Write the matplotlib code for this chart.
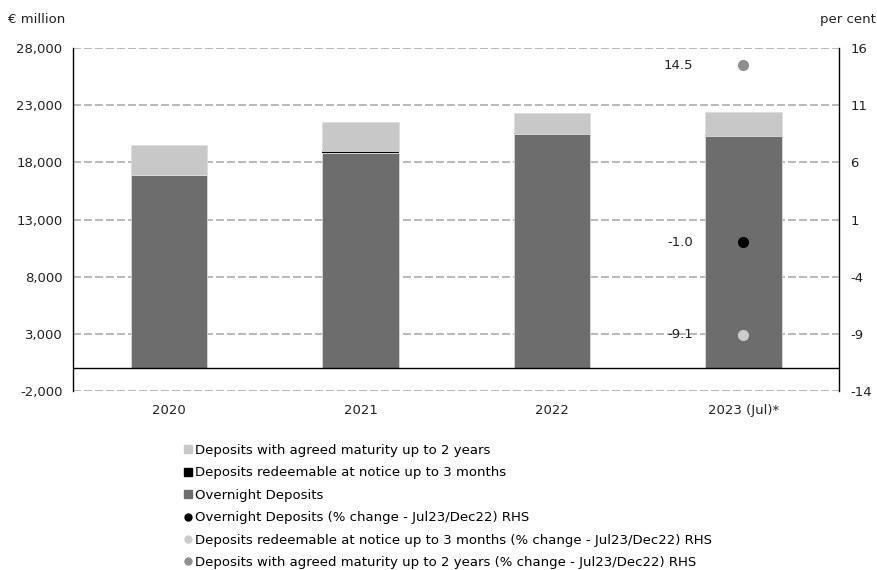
import matplotlib.pyplot as plt
from matplotlib.lines import Line2D

plt.rcParams['font.family'] = ['DejaVu Sans']
plt.rcParams['axes.unicode_minus'] = False

years = ['2020', '2021', '2022', '2023 (Jul)*']
overnight = [16850, 18860, 20450, 20260]
notice = [80, 150, 80, 100]
agreed = [2570, 2480, 1800, 2030]

# % change Jul23/Dec22 (RHS), only for the last category
pct_labels = ['Overnight Deposits (% change - Jul23/Dec22) RHS',
              'Deposits redeemable at notice up to 3 months (% change - Jul23/Dec22) RHS',
              'Deposits with agreed maturity up to 2 years (% change - Jul23/Dec22) RHS']
pct_values = [-1.0, -9.1, 14.5]
pct_colors = ['#000000', '#cccccc', '#8f8f8f']

fig = plt.figure(figsize=(8.77, 5.70), dpi=100)
ax = fig.add_axes([0.0838, 0.314, 0.8729, 0.6018])

x = range(len(years))
w = 0.40
ax.bar(x, overnight, w, color='#6d6d6d', edgecolor='#d8d8d8', linewidth=0.6, zorder=3)
b2 = [o for o in overnight]
ax.bar(x, notice, w, bottom=b2, color='#000000', linewidth=0, zorder=3)
b3 = [o + n for o, n in zip(overnight, notice)]
ax.bar(x, agreed, w, bottom=b3, color='#c8c8c8', edgecolor='#dcdcdc', linewidth=0.6, zorder=3)

ax.set_xlim(-0.5, 3.5)
ax.set_ylim(-2000, 28000)
ax.set_yticks(range(-2000, 28001, 5000))
ax.set_yticklabels([f'{v:,}' for v in range(-2000, 28001, 5000)])
ax.set_xticks(list(x))
ax.set_xticklabels(years)
ax.grid(axis='y', color='#a6a6a6', linewidth=1.1, linestyle=(0, (5.2, 2.0)), zorder=0)
ax.axhline(0, color='black', linewidth=1.0, zorder=4)
ax.tick_params(axis='both', length=0, labelsize=9.5, colors='#222222')
ax.tick_params(axis='x', pad=9)
ax.tick_params(axis='y', pad=8)
for s in ['top', 'bottom', 'right']:
    ax.spines[s].set_visible(False)
ax.spines['left'].set_linewidth(1.0)

ax2 = ax.twinx()
ax2.set_ylim(-14, 16)
ax2.set_yticks(range(-14, 17, 5))
ax2.tick_params(axis='y', length=0, labelsize=9.5, pad=8, colors='#222222')
for s in ['top', 'bottom', 'left']:
    ax2.spines[s].set_visible(False)
ax2.spines['right'].set_linewidth(1.0)

for v, c in zip(pct_values, pct_colors):
    ax2.plot([3], [v], 'o', color=c, markersize=7, zorder=5)
    ax2.annotate(f'{v:.1f}', (3, v), xytext=(-36, 0), textcoords='offset points',
                 ha='right', va='center', fontsize=9.5, color='#222222')

fig.text(0.009, 0.965, '€ million', fontsize=9.5, color='#222222', va='center')
fig.text(0.999, 0.965, 'per cent', fontsize=9.5, color='#222222', va='center', ha='right')

handles = [
    Line2D([], [], marker='s', color='#c8c8c8', linestyle='none', markersize=6),
    Line2D([], [], marker='s', color='#000000', linestyle='none', markersize=6),
    Line2D([], [], marker='s', color='#6d6d6d', linestyle='none', markersize=6),
]
for c in pct_colors:
    handles.append(Line2D([], [], marker='o', color=c, linestyle='none', markersize=5))
labels = ['Deposits with agreed maturity up to 2 years',
          'Deposits redeemable at notice up to 3 months',
          'Overnight Deposits'] + pct_labels
fig.legend(handles, labels, loc='upper left', bbox_to_anchor=(0.21, 0.221),
           frameon=False, fontsize=9.5, handlelength=0.6, handletextpad=0.2,
           labelspacing=0.71, borderpad=0, borderaxespad=0)

fig.savefig('out.png', dpi=100)
